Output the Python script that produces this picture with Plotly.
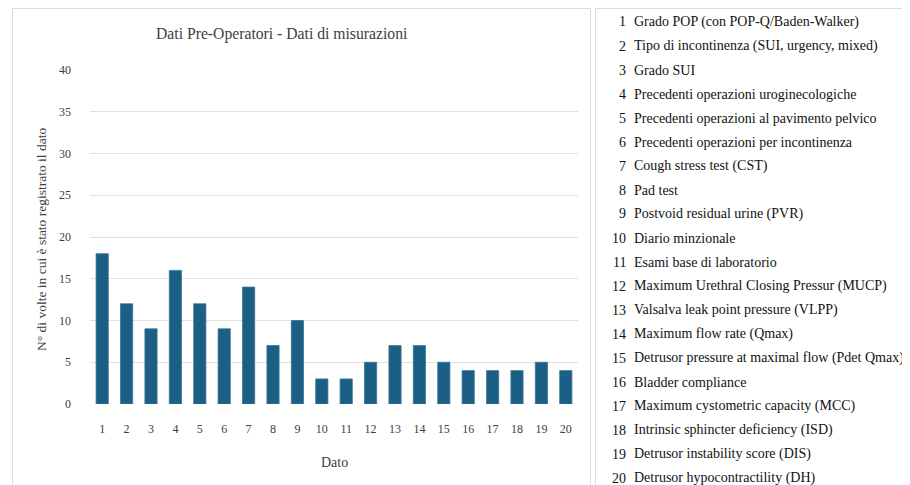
import plotly.graph_objects as go

categories = [str(i) for i in range(1, 21)]
values = [18, 12, 9, 16, 12, 9, 14, 7, 10, 3, 3, 5, 7, 7, 5, 4, 4, 4, 5, 4]
labels = [
    "Grado POP (con POP-Q/Baden-Walker)",
    "Tipo di incontinenza (SUI, urgency, mixed)",
    "Grado SUI",
    "Precedenti operazioni uroginecologiche",
    "Precedenti operazioni al pavimento pelvico",
    "Precedenti operazioni per incontinenza",
    "Cough stress test (CST)",
    "Pad test",
    "Postvoid residual urine (PVR)",
    "Diario minzionale",
    "Esami base di laboratorio",
    "Maximum Urethral Closing Pressur (MUCP)",
    "Valsalva leak point pressure (VLPP)",
    "Maximum flow rate (Qmax)",
    "Detrusor pressure at maximal flow (Pdet Qmax)",
    "Bladder compliance",
    "Maximum cystometric capacity (MCC)",
    "Intrinsic sphincter deficiency (ISD)",
    "Detrusor instability score (DIS)",
    "Detrusor hypocontractility (DH)",
]
y_ticks = [0, 5, 10, 15, 20, 25, 30, 35, 40]

# the page body adds an 8px margin; the figure is sized/offset to compensate
OFF = 8
W, H = 910 - OFF, 485 - OFF
L, T = 90 - OFF, 70 - OFF
PW, PH = 488, 334
R, B = W - L - PW, H - T - PH
FONT = "Liberation Serif"


def px(x):
    return (x - OFF - L) / PW


def py(y):
    return (H - B - (y - OFF)) / PH


fig = go.Figure(
    go.Bar(
        x=categories,
        y=values,
        marker=dict(color="#1c5f85", line=dict(color="#3a7599", width=0.8)),
        width=0.5,
        hoverinfo="x+y",
    )
)

annotations = [
    dict(text="Dati Pre-Operatori - Dati di misurazioni", x=px(282), y=py(34),
         xref="paper", yref="paper", showarrow=False,
         font=dict(family=FONT, size=15.7, color="#404040"), xanchor="center", yanchor="middle"),
    dict(text="Dato", x=px(334), y=py(462), xref="paper", yref="paper", showarrow=False,
         font=dict(family=FONT, size=14, color="#404040"), xanchor="center", yanchor="middle"),
    dict(text="N° di volte in cui è stato registrato il dato", x=px(41), y=py(240),
         xref="paper", yref="paper", showarrow=False, textangle=-90,
         font=dict(family=FONT, size=13.5, color="#404040"), xanchor="center", yanchor="middle"),
]
for i, lab in enumerate(labels):
    ypx = 22 + 24 * i
    annotations.append(dict(text=str(i + 1), x=px(628), y=py(ypx), xref="paper", yref="paper",
                            showarrow=False, xanchor="right", yanchor="middle",
                            font=dict(family=FONT, size=14, color="#111111")))
    annotations.append(dict(text=lab, x=px(632), y=py(ypx), xref="paper", yref="paper",
                            showarrow=False, xanchor="left", yanchor="middle",
                            font=dict(family=FONT, size=14, color="#111111")))

shapes = [
    dict(type="path", xref="paper", yref="paper",
         path=f"M {px(12.5)},{py(500)} L {px(12.5)},{py(8.5)} L {px(590.5)},{py(8.5)} L {px(590.5)},{py(500)}",
         line=dict(color="#dcdcdc", width=1)),
    dict(type="path", xref="paper", yref="paper",
         path=f"M {px(595.5)},{py(500)} L {px(595.5)},{py(8.5)} L {px(930)},{py(8.5)}",
         line=dict(color="#dcdcdc", width=1)),
]

fig.update_layout(
    width=W, height=H,
    margin=dict(l=L, r=R, t=T, b=B),
    paper_bgcolor="white", plot_bgcolor="white",
    showlegend=False,
    annotations=annotations,
    shapes=shapes,
    xaxis=dict(type="category", showgrid=False, zeroline=False, showline=False,
               ticks="", ticklabelstandoff=16,
               tickfont=dict(family=FONT, size=12, color="#404040")),
    yaxis=dict(range=[0, 40], tickvals=y_ticks, showgrid=True, gridcolor="#dde1e6", gridwidth=1,
               zeroline=False, showline=False, ticks="", ticklabelstandoff=18,
               tickfont=dict(family=FONT, size=12, color="#404040")),
    bargap=0.49,
)

fig.write_html("out.html")
